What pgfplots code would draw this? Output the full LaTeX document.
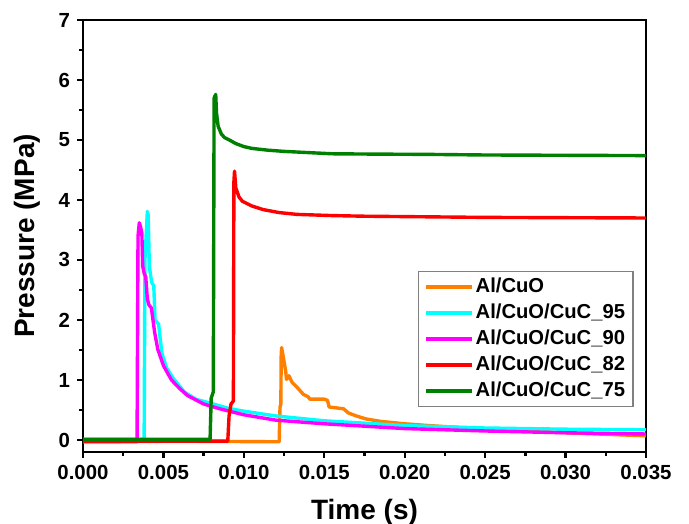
\documentclass[border=0pt]{standalone}
\usepackage{fontspec}
\setmainfont{Liberation Sans}
\usepackage{pgfplots}
\pgfplotsset{compat=1.18}
\definecolor{corange}{RGB}{255,128,0}
\definecolor{ccyan}{RGB}{0,255,255}
\definecolor{cmagenta}{RGB}{255,0,255}
\definecolor{cred}{RGB}{255,0,0}
\definecolor{cgreen}{RGB}{0,128,0}
\begin{document}
\begin{tikzpicture}
\begin{axis}[
  name=ax,
  scale only axis,
  width=281.5pt, height=216pt,
  xmin=0, xmax=0.035, ymin=-0.2, ymax=7,
  xtick={0,0.005,...,0.0351}, ytick={0,1,...,7},
  minor x tick num=1, minor y tick num=1,
  tick align=outside,
  xtick pos=bottom, ytick pos=left,
  major tick length=3pt, minor tick length=2pt,
  axis line style={line width=1.4pt},
  every tick/.style={black, line width=1.2pt},
  scaled x ticks=false,
  /pgf/number format/assume math mode=true,
  xticklabel style={/pgf/number format/.cd, fixed, fixed zerofill, precision=3},
  ticklabel style={font=\fontsize{10.2}{12}\selectfont\bfseries},
  xlabel={Time (s)}, ylabel={Pressure (MPa)},
  label style={font=\fontsize{14}{16}\selectfont\bfseries},
  xlabel style={at={(axis description cs:0.5,-0.139)}, anchor=center},
  ylabel style={at={(axis description cs:-0.0995,0.5)}, anchor=center},
  legend cell align=left,
  legend style={at={(0.978,0.104)}, anchor=south east, draw=gray, line width=0.6pt,
    font=\fontsize{10.1}{12}\selectfont\bfseries, row sep=1.6pt,
    nodes={inner sep=1pt, text height=7.4pt, text depth=2pt}},
  legend image code/.code={\draw[#1, line width=1.7pt] (0pt,0pt) -- (23pt,0pt);},
  every axis plot/.append style={line width=1.7pt, line join=round},
]
\addplot[corange] coordinates {(0,-0.03) (0.006,-0.02) (0.0122,-0.03) (0.01222,0.3) (0.01225,0.55) (0.0123,0.6) (0.01232,1.4) (0.01235,1.54) (0.0125,1.3) (0.0126,1.15) (0.01265,1.01) (0.0128,1.07) (0.0130,0.96) (0.0133,0.88) (0.0137,0.76) (0.0140,0.72) (0.0141,0.68) (0.0150,0.68) (0.0152,0.66) (0.0153,0.55) (0.0162,0.52) (0.0165,0.45) (0.0170,0.40) (0.0176,0.35) (0.0185,0.31) (0.020,0.27) (0.0215,0.24) (0.025,0.18) (0.030,0.12) (0.035,0.07)};
\addlegendentry{Al/CuO}
\addplot[ccyan] coordinates {(0,0.01) (0.0038,0.01) (0.00385,3.0) (0.0040,3.81) (0.00405,3.75) (0.0041,3.2) (0.00412,2.9) (0.0042,2.75) (0.00428,2.62) (0.0044,2.57) (0.00448,2.0) (0.0047,1.93) (0.0049,1.45) (0.0052,1.2) (0.0056,1.03) (0.0063,0.80) (0.0070,0.68) (0.0081,0.60) (0.0090,0.53) (0.0100,0.48) (0.012,0.40) (0.015,0.32) (0.020,0.24) (0.025,0.20) (0.030,0.18) (0.035,0.17)};
\addlegendentry{Al/CuO/CuC\_95}
\addplot[cmagenta] coordinates {(0,-0.03) (0.00336,-0.03) (0.00342,3.4) (0.00350,3.62) (0.00358,3.55) (0.00366,3.45) (0.00371,2.9) (0.00380,2.78) (0.00390,2.72) (0.00400,2.35) (0.00410,2.25) (0.00425,2.2) (0.00445,1.8) (0.00465,1.51) (0.0050,1.24) (0.0055,1.0) (0.0060,0.86) (0.0065,0.74) (0.0075,0.6) (0.0085,0.52) (0.0100,0.42) (0.012,0.33) (0.015,0.27) (0.020,0.19) (0.025,0.15) (0.030,0.12) (0.035,0.10)};
\addlegendentry{Al/CuO/CuC\_90}
\addplot[cred] coordinates {(0,-0.02) (0.0090,-0.02) (0.00908,0.4) (0.0092,0.6) (0.00935,0.65) (0.00938,4.3) (0.00942,4.48) (0.0095,4.2) (0.0097,4.05) (0.0099,3.98) (0.0105,3.9) (0.0112,3.84) (0.0122,3.79) (0.0133,3.76) (0.0155,3.74) (0.0174,3.73) (0.025,3.71) (0.035,3.70)};
\addlegendentry{Al/CuO/CuC\_82}
\addplot[cgreen] coordinates {(0,0.01) (0.0079,0.01) (0.00797,0.7) (0.0081,0.8) (0.00815,5.7) (0.00825,5.76) (0.0083,5.45) (0.0084,5.23) (0.0086,5.1) (0.0088,5.04) (0.0091,5.0) (0.0095,4.94) (0.0100,4.89) (0.0105,4.86) (0.0115,4.83) (0.0125,4.81) (0.014,4.79) (0.0155,4.77) (0.018,4.765) (0.0215,4.76) (0.025,4.75) (0.030,4.745) (0.035,4.74)};
\addlegendentry{Al/CuO/CuC\_75}
\end{axis}
\pgfresetboundingbox
\path ([shift={(-41.5pt,-36pt)}]ax.south west) rectangle ([shift={(21.5pt,10pt)}]ax.north east);
\end{tikzpicture}
\end{document}
